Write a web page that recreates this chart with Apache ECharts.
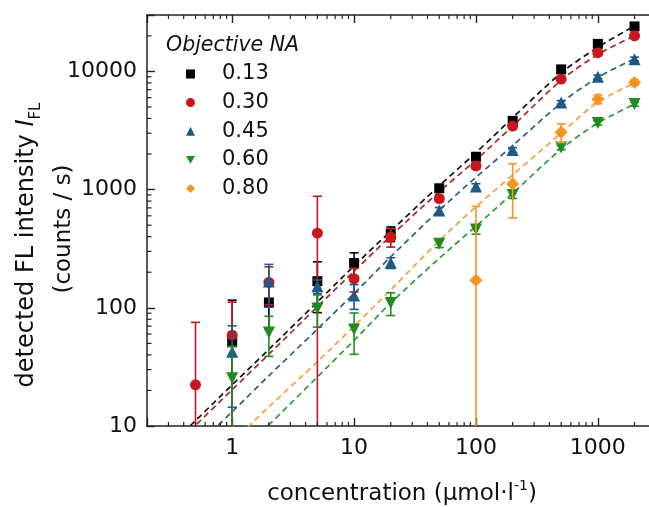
<!DOCTYPE html>
<html>
<head>
<meta charset="utf-8">
<script src="https://cdn.jsdelivr.net/npm/echarts@6/dist/echarts.min.js"></script>
<style>
  html, body { margin: 0; padding: 0; background: #fff; }
  #chart { width: 649px; height: 507px; }
</style>
</head>
<body>
<div id="chart"></div>
<script>
// Concentrations (µmol/l) at which each objective was measured
const conc = [1, 2, 5, 10, 20, 50, 100, 200, 500, 1000, 2000];
const concNA030 = [0.5, 1, 2, 5, 10, 20, 50, 100, 200, 500, 1000, 2000];
const concNA080 = [100, 200, 500, 1000, 2000];

// Mean detected intensity (counts/s) and its standard deviation
const na013 = [51, 111, 168, 239, 423, 1026, 1897, 3818, 10400, 17100, 24000];
const err013 = [65, 45, 77, 53, 60, 60, 120, 200, 500, 800, 1000];
const na030 = [22.3, 58.6, 164, 428, 176, 396, 839, 1585, 3445, 8610, 14400, 20000];
const err030 = [53, 53, 58, 450, 40, 70, 50, 100, 150, 400, 600, 800];
const na045 = [42.4, 167, 152, 127, 240, 665, 1060, 2163, 5455, 9000, 12700];
const err045 = [28, 66, 20, 30, 25, 40, 60, 100, 200, 300, 500];
const na060 = [25.3, 61.8, 98.5, 65.4, 110, 348, 459, 902, 2275, 3660, 5290];
const err060 = [22, 23, 30, 25, 24, 25, 40, 60, 100, 150, 200];
const na080 = [171, 1116, 3050, 5820, 8060];
const err080 = [550, 540, 550, 500, 400];

// Fitted curves, sampled along the concentration range
const fitConc = [0.3, 0.5, 1, 2, 5, 10, 20, 50, 100, 200, 500, 1000, 2000];
const fit013 = [6.7, 11.1, 22.3, 44.5, 112, 226, 446, 1080, 2050, 4050, 9700, 16000, 24300];
const fit030 = [6.0, 10.1, 20.3, 40.5, 102, 204, 405, 960, 1780, 3450, 8400, 13900, 20000];
const fit045 = [3.9, 6.6, 13.2, 26.6, 66, 132, 270, 670, 1270, 2350, 5400, 8900, 12800];
const fit060 = [1.5, 2.5, 5.0, 10.2, 26, 53, 110, 262, 490, 930, 2200, 3650, 5300];
const fit080 = [2.2, 3.7, 7.3, 14.5, 35, 70, 142, 370, 715, 1330, 3000, 5500, 7950];

// Axis ranges and minor tick positions
const xRange = [0.2, 3000];
const yRange = [10, 30000];
const xMinorTicks = [0.3, 0.4, 0.5, 0.6, 0.7, 0.8, 0.9, 2, 3, 4, 5, 6, 7, 8, 9,
  20, 30, 40, 50, 60, 70, 80, 90, 200, 300, 400, 500, 600, 700, 800, 900, 2000];
const yMinorTicks = [20, 30, 40, 50, 60, 70, 80, 90, 200, 300, 400, 500, 600, 700, 800, 900,
  2000, 3000, 4000, 5000, 6000, 7000, 8000, 9000, 20000];

const FONT = 'DejaVu Sans';
const AXIS_COLOR = '#222';
const TEXT_COLOR = '#111';
const TRIANGLE_DOWN = 'path://M0,0L10,0L5,8.7Z';

const groups = [
  { name: '0.13', x: conc, y: na013, e: err013, fit: fit013, color: '#000000', fitColor: '#111111', symbol: 'rect', size: 10 },
  { name: '0.30', x: concNA030, y: na030, e: err030, fit: fit030, color: '#c8161d', fitColor: '#a8282c', symbol: 'circle', size: 11 },
  { name: '0.45', x: conc, y: na045, e: err045, fit: fit045, color: '#1d5a86', fitColor: '#2a5f88', symbol: 'triangle', size: 12 },
  { name: '0.60', x: conc, y: na060, e: err060, fit: fit060, color: '#1f8c22', fitColor: '#2f9a3a', symbol: TRIANGLE_DOWN, size: 12 },
  { name: '0.80', x: concNA080, y: na080, e: err080, fit: fit080, color: '#f7931e', fitColor: '#f2a043', symbol: 'diamond', size: 13 }
];

function decadeLabel(v) {
  const l = Math.log10(v);
  return Math.abs(l - Math.round(l)) < 1e-6 ? String(Math.round(v)) : '';
}

function errorBarRenderer(color) {
  return function (params, api) {
    const x = api.value(0), lo = api.value(1), hi = api.value(2);
    const top = api.coord([x, hi]);
    const bot = api.coord([x, lo > 0 ? lo : 1]);
    const half = 4.5;
    const st = { stroke: color, lineWidth: 1.6 };
    const children = [
      { type: 'line', shape: { x1: top[0], y1: top[1], x2: bot[0], y2: bot[1] }, style: st },
      { type: 'line', shape: { x1: top[0] - half, y1: top[1], x2: top[0] + half, y2: top[1] }, style: st }
    ];
    if (lo > 0) {
      children.push({ type: 'line', shape: { x1: bot[0] - half, y1: bot[1], x2: bot[0] + half, y2: bot[1] }, style: st });
    }
    return { type: 'group', children: children };
  };
}

const series = [];
groups.forEach(function (g) {
  series.push({
    name: 'fit ' + g.name,
    type: 'line',
    data: fitConc.map(function (c, i) { return [c, g.fit[i]]; }),
    showSymbol: false,
    smooth: 0.3,
    clip: true,
    silent: true,
    z: 2,
    lineStyle: { color: g.fitColor, width: 1.7, type: [6, 4] }
  });
});
groups.forEach(function (g, gi) {
  series.push({
    name: 'err ' + g.name,
    type: 'custom',
    clip: true,
    silent: true,
    z: 3 + gi * 2,
    data: g.x.map(function (c, i) { return [c, g.y[i] - g.e[i], g.y[i] + g.e[i]]; }),
    encode: { x: 0, y: [1, 2] },
    renderItem: errorBarRenderer(g.color)
  });
  series.push({
    name: g.name,
    type: 'scatter',
    data: g.x.map(function (c, i) { return [c, g.y[i]]; }),
    symbol: g.symbol,
    symbolSize: g.size,
    z: 4 + gi * 2,
    itemStyle: { color: g.color, opacity: 1 }
  });
});

// Minor ticks on the bottom, top and left frame
series.push({
  name: 'x minor ticks',
  type: 'custom',
  silent: true,
  z: 20,
  data: xMinorTicks.map(function (v) { return [v, yRange[0]]; }),
  renderItem: function (params, api) {
    const b = api.coord([api.value(0), yRange[0]]);
    const t = api.coord([api.value(0), yRange[1]]);
    const st = { stroke: AXIS_COLOR, lineWidth: 1.2 };
    return { type: 'group', children: [
      { type: 'line', shape: { x1: b[0], y1: b[1], x2: b[0], y2: b[1] - 4 }, style: st },
      { type: 'line', shape: { x1: t[0], y1: t[1], x2: t[0], y2: t[1] + 4 }, style: st }
    ] };
  }
});
series.push({
  name: 'y minor ticks',
  type: 'custom',
  silent: true,
  z: 20,
  data: yMinorTicks.map(function (v) { return [xRange[0], v]; }),
  renderItem: function (params, api) {
    const p = api.coord([xRange[0], api.value(1)]);
    return { type: 'line', shape: { x1: p[0], y1: p[1], x2: p[0] + 4.5, y2: p[1] },
      style: { stroke: AXIS_COLOR, lineWidth: 1.2 } };
  }
});

const chart = echarts.init(document.getElementById('chart'), null, { renderer: 'canvas' });
chart.setOption({
  animation: false,
  backgroundColor: '#ffffff',
  grid: { left: 147, top: 15, width: 509, height: 411, containLabel: false, outerBoundsMode: 'none' },
  xAxis: [
    {
      type: 'log', logBase: 10, min: xRange[0], max: xRange[1], position: 'bottom',
      axisLine: { show: true, lineStyle: { color: AXIS_COLOR, width: 1.5 } },
      axisTick: { show: true, inside: true, length: 8, lineStyle: { color: AXIS_COLOR, width: 1.4 } },
      axisLabel: { show: true, margin: 11, fontSize: 22, fontFamily: FONT, color: TEXT_COLOR, formatter: decadeLabel },
      splitLine: { show: false }
    },
    {
      type: 'log', logBase: 10, min: xRange[0], max: xRange[1], position: 'top',
      axisLine: { show: true, lineStyle: { color: AXIS_COLOR, width: 1.5 } },
      axisTick: { show: true, inside: true, length: 8, lineStyle: { color: AXIS_COLOR, width: 1.4 } },
      axisLabel: { show: false },
      splitLine: { show: false }
    }
  ],
  yAxis: {
    type: 'log', logBase: 10, min: yRange[0], max: yRange[1],
    axisLine: { show: true, lineStyle: { color: AXIS_COLOR, width: 1.5 } },
    axisTick: { show: true, inside: true, length: 8, lineStyle: { color: AXIS_COLOR, width: 1.4 } },
    axisLabel: { show: true, margin: 10, fontSize: 22, fontFamily: FONT, color: TEXT_COLOR, formatter: decadeLabel },
    splitLine: { show: false }
  },
  legend: {
    orient: 'vertical',
    left: 181,
    top: 58,
    itemWidth: 9,
    itemHeight: 9,
    itemGap: 6.6,
    data: groups.map(function (g) { return g.name; }),
    textStyle: {
      fontSize: 21, fontFamily: FONT, color: TEXT_COLOR, lineHeight: 22,
      rich: { v: { fontSize: 21, fontFamily: FONT, color: TEXT_COLOR, lineHeight: 22, padding: [0, 0, 0, 22] } }
    },
    formatter: function (name) { return '{v|' + name + '}'; }
  },
  graphic: [
    {
      type: 'text', left: 166, top: 36,
      style: { text: 'Objective NA', fontSize: 20.5, fontStyle: 'italic', fontFamily: FONT, fill: TEXT_COLOR }
    },
    {
      type: 'text', x: 402, y: 494,
      style: {
        text: '{a|concentration (µmol·l}{p|-1}{a|)}',
        align: 'center', verticalAlign: 'middle',
        rich: {
          a: { fontSize: 23, fontFamily: FONT, fill: TEXT_COLOR, lineHeight: 30, verticalAlign: 'middle' },
          p: { fontSize: 14, fontFamily: FONT, fill: TEXT_COLOR, lineHeight: 16, verticalAlign: 'top' }
        }
      }
    },
    {
      type: 'text', x: 27, y: 245, rotation: Math.PI / 2,
      style: {
        text: '{a|detected FL intensity }{i|I}{s|FL}',
        align: 'center', verticalAlign: 'middle',
        rich: {
          a: { fontSize: 24, fontFamily: FONT, fill: TEXT_COLOR, lineHeight: 34, verticalAlign: 'middle' },
          i: { fontSize: 24, fontFamily: FONT, fontStyle: 'italic', fill: TEXT_COLOR, lineHeight: 34, verticalAlign: 'middle' },
          s: { fontSize: 15, fontFamily: FONT, fill: TEXT_COLOR, lineHeight: 17, verticalAlign: 'bottom' }
        }
      }
    },
    {
      type: 'text', x: 64, y: 229, rotation: Math.PI / 2,
      style: {
        text: '(counts / s)', align: 'center', verticalAlign: 'middle',
        fontSize: 23, fontFamily: FONT, fill: TEXT_COLOR
      }
    }
  ],
  series: series
});
</script>
</body>
</html>
